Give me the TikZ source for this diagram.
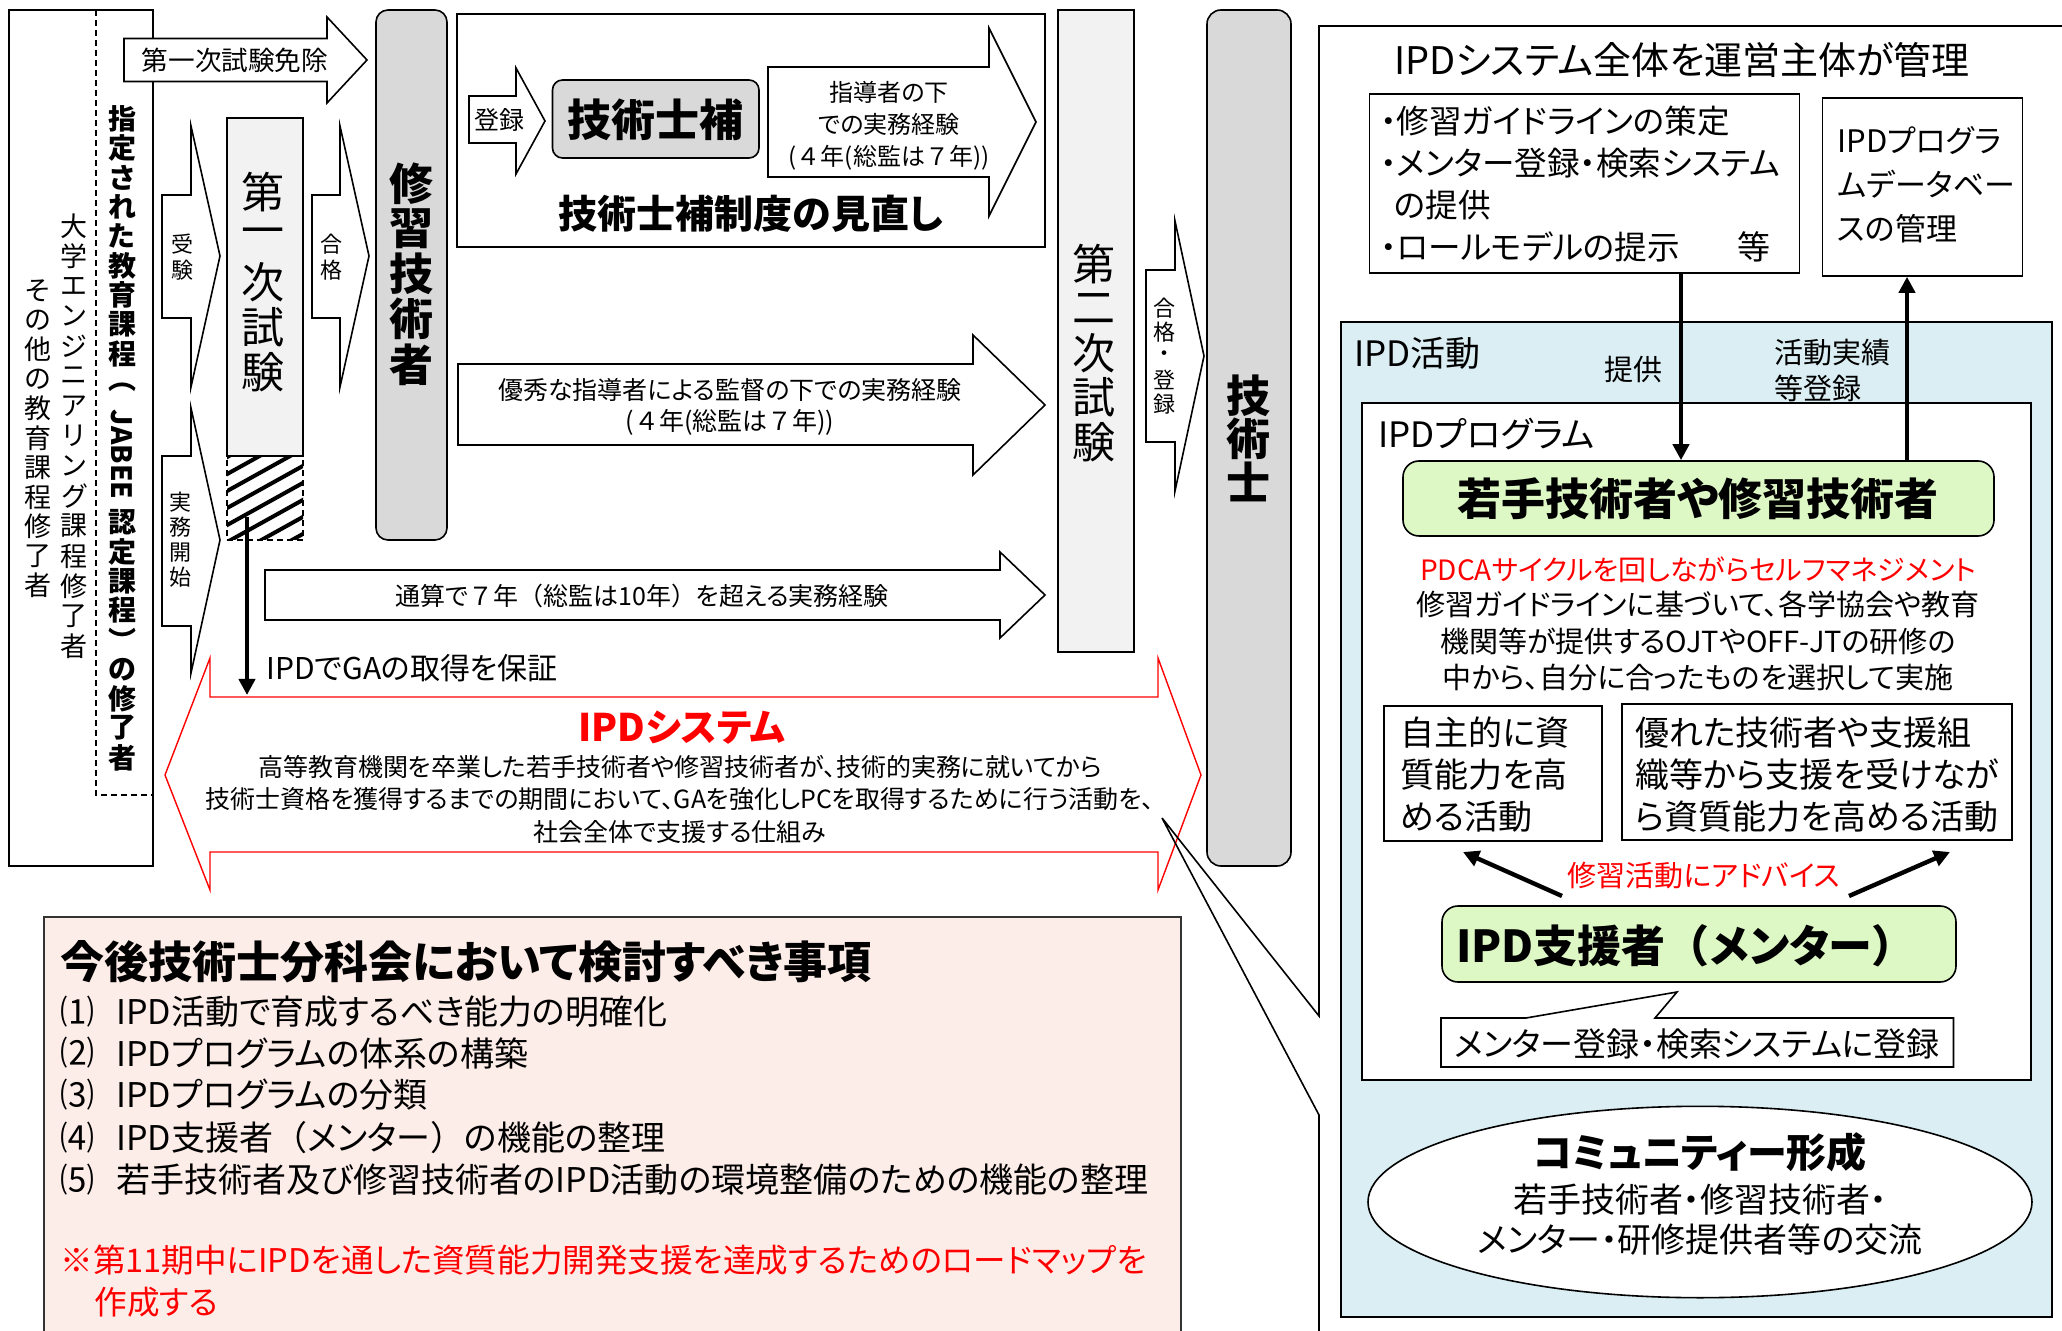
\documentclass[tikz,border=0pt]{standalone}
\usepackage{fontspec}
\setmainfont{Noto Sans CJK JP}[RawFeature=+palt]
\newfontfamily\fullw{Noto Sans CJK JP}
\usepackage{graphicx}
\usetikzlibrary{fit,shapes.geometric,arrows.meta}
\definecolor{gra}{HTML}{D9D9D9}
\definecolor{grb}{HTML}{F2F2F2}
\definecolor{lblue}{HTML}{DAEEF3}
\definecolor{lgreen}{HTML}{DDF8C4}
\definecolor{lpink}{HTML}{FDEDE8}
\definecolor{myred}{HTML}{FF0000}
\newcommand\fs[2]{\fontsize{#1pt}{#2pt}\selectfont}
\newcommand\lp{{\fullw （}}
\newcommand\rp{{\fullw ）}}
\newdimen\vtpitch
\def\vtend{\vtend}
\def\vtloop#1{\ifx\vtend#1\else\vbox to\vtpitch{\vss\hbox to 0pt{\hss#1\hss}\vss}\expandafter\vtloop\fi}
\newcommand\vtxt[1]{\vtloop#1\vtend}
\newcommand\vrot[1]{\vbox{\kern4pt\hbox to 0pt{\hss\rotatebox{-90}{#1}\hss}\kern4pt}}
\newcommand\vcol[2]{\vbox{\offinterlineskip\vtpitch=#1\relax#2}}
\tikzset{
  bx/.style={draw=black,line width=0.8pt,inner sep=0pt},
  barrow/.style={draw=black,fill=white,line width=0.8pt,line join=miter},
  txt/.style={inner sep=0pt},
  thk/.style={line width=2.2pt,-{Triangle[width=8pt,length=8pt]}},
}
\begin{document}
\begin{tikzpicture}[x=0.5pt,y=-0.5pt]
\useasboundingbox (0,0) rectangle (2062,1331);

% ---------- left education box
\node[bx,fit={(9,10)(153,866)}] (edu) {};
\draw[line width=0.7pt,dash pattern=on 3pt off 2pt] (96,10) -- (96,795) -- (153,795);
\node[txt,font=\bfseries\fs{14}{15}] (colA) at (122,438) {\vcol{14.7pt}{\vtxt{指定された教育課程}\kern2pt\vtxt{︵}\vrot{JABEE}\vtxt{認定課程︶の修了者}}};
\node[txt,font=\fs{13.5}{15}] (colB) at (74,436) {\vcol{15pt}{\vtxt{大学エンジニアリング課程修了者}}};
\node[txt,font=\fs{13.5}{15}] (colC) at (38,438) {\vcol{14.75pt}{\vtxt{その他の教育課程修了者}}};

% ---------- block arrows left
\draw[barrow] (124,38.5) -- (327,38.5) -- (327,17) -- (367,60) -- (327,103) -- (327,81.5) -- (124,81.5) -- cycle;
\node[txt,font=\fs{13.3}{15}] (menjo) at (235,60) {第一次試験免除};

\draw[barrow] (162,195) -- (191,195) -- (191,126) -- (220,256) -- (191,387) -- (191,318) -- (162,318) -- cycle;
\node[txt,font=\fs{11}{12}] (juken) at (182,257) {\vcol{12.75pt}{\vtxt{受験}}};

\draw[barrow] (162,456) -- (191,456) -- (191,408) -- (220,540) -- (191,673) -- (191,626) -- (162,626) -- cycle;
\node[txt,font=\fs{11}{12}] (jitsumu) at (180,540) {\vcol{12.5pt}{\vtxt{実務開始}}};

% ---------- first exam
\node[bx,fill=grb,fit={(227,118)(303,456)}] (ex1) {};
\begin{scope}
\clip (227,456) rectangle (303,540);
\foreach \k in {0,...,8} \draw[line width=2pt] (220,{461+17*\k}) -- (310,{461+17*\k-50});
\end{scope}
\node[draw,line width=0.7pt,dash pattern=on 3pt off 2pt,inner sep=0pt,fit={(227,456)(303,540)}] (hatch) {};
\node[txt,font=\fs{21.5}{24}] (ex1t) at (262.5,282.5) {\vcol{22.5pt}{\vtxt{第一次試験}}};

\draw[barrow] (312,195) -- (340,195) -- (340,126) -- (369,256) -- (340,387) -- (340,318) -- (312,318) -- cycle;
\node[txt,font=\fs{11}{12}] (goukaku) at (331,257) {\vcol{12.75pt}{\vtxt{合格}}};

% ---------- 修習技術者
\node[bx,fill=gra,rounded corners=6pt,fit={(376,10)(447,540)}] (shuu) {};
\node[txt,font=\bfseries\fs{22}{24}] (shuut) at (411,274) {\vcol{22.6pt}{\vtxt{修習技術者}}};

% ---------- 技術士補制度の見直し
\node[bx,fit={(457,14)(1045,247)}] (hosei) {};
\draw[barrow] (469,96) -- (516,96) -- (516,68) -- (545,121) -- (516,174) -- (516,143) -- (469,143) -- cycle;
\node[txt,font=\fs{12.5}{14}] (touroku) at (499,120) {登録};
\node[bx,fill=gra,rounded corners=5pt,fit={(552.5,80)(759,158)}] (hoho) {};
\node[txt,font=\bfseries\fs{22}{24}] (hohot) at (655,120) {技術士補};
\draw[barrow] (768,67) -- (989,67) -- (989,28) -- (1036,122) -- (989,216) -- (989,177) -- (768,177) -- cycle;
\node[txt,font=\fs{12}{16},align=center] (shidou) at (889,126) {指導者の下\\での実務経験\\{\fullw (４年(総監は７年))}};
\node[txt,font=\bfseries\fs{19.5}{22}] (minaoshi) at (751,214) {技術士補制度の見直し};

% ---------- long arrows
\draw[barrow] (458,364) -- (973,364) -- (973,335) -- (1045,405) -- (973,475) -- (973,445) -- (458,445) -- cycle;
\node[txt,font=\fs{12.5}{15.75},align=center] (yuushuu) at (730,407) {優秀な指導者による監督の下での実務経験\\{\fullw (４年(総監は７年))}};
\draw[barrow] (265,570) -- (1000,570) -- (1000,552) -- (1045,595) -- (1000,638) -- (1000,620) -- (265,620) -- cycle;
\node[txt,font=\fs{12.5}{14}] (tsuusan) at (642,596) {通算で{\fullw ７}年\lp 総監は10年\rp を超える実務経験};

% ---------- second exam, 技術士
\node[bx,fill=grb,fit={(1058,10)(1134,652)}] (ex2) {};
\node[txt,font=\fs{21.5}{24}] (ex2t) at (1094,353) {\vcol{22.25pt}{\vtxt{第二次試験}}};
\draw[barrow] (1146,270) -- (1175,270) -- (1175,221) -- (1204,356) -- (1175,491) -- (1175,442) -- (1146,442) -- cycle;
\node[txt,font=\fs{11}{12}] (gt) at (1164,356) {\vcol{12pt}{\vtxt{合格・登録}}};
\node[bx,fill=gra,rounded corners=7pt,fit={(1207,10)(1291,866)}] (gijutsushi) {};
\node[txt,font=\bfseries\fs{22}{24}] (gst) at (1248,439) {\vcol{21.5pt}{\vtxt{技術士}}};

% ---------- IPD system double arrow
\draw[draw=myred,fill=white,line width=0.7pt,line join=miter] (165,775) -- (210,658) -- (210,697) -- (1158,697) -- (1158,658) -- (1201,775) -- (1158,890) -- (1158,852) -- (210,852) -- (210,890) -- cycle;
\node[txt,font=\fs{15}{17},anchor=west] (gaho) at (266,668) {IPDでGAの取得を保証};
\node[txt,font=\bfseries\fs{19}{21},text=myred] (ipdsys) at (682,728) {IPDシステム};
\node[txt,font=\fs{12.5}{16.25},align=center] (ipddesc) at (680,799) {高等教育機関を卒業した若手技術者や修習技術者が、技術的実務に就いてから\\技術士資格を獲得するまでの期間において、GAを強化しPCを取得するために行う活動を、\\社会全体で支援する仕組み};
\coordinate (gaS) at (247,517);
\coordinate (gaE) at (247,695);
\draw[thk] (gaS) -- (gaE);

% ---------- right outer callout
\coordinate (co) at (1162,818);
\draw[line width=0.8pt,line join=miter] (2070,26) -- (1319,26) -- (1319,1016) -- (co) -- (1319,1115) -- (1319,1340);
\node[txt,font=\fs{19}{21}] (mgmt) at (1682,60) {IPDシステム全体を運営主体が管理};
\node[bx,fit={(1369.5,94)(1799.5,273)}] (box1) {};
\node[txt,font=\fs{16.3}{21},align=left,anchor=west] (box1t) at (1380,184) {・修習ガイドラインの策定\\・メンター登録・検索システム\\\hspace*{7pt}の提供\\・ロールモデルの提示};
\node[txt,font=\fs{16.5}{21}] (tou) at (1754,247) {等};
\node[bx,fit={(1822.5,98)(2022.5,276)}] (box2) {};
\node[txt,font=\fs{15.5}{22},align=left,anchor=west] (box2t) at (1837,185) {IPDプログラ\\ムデータベー\\スの管理};

% ---------- IPD活動
\node[bx,fill=lblue,fit={(1341,322)(2052,1317)}] (katsudou) {};
\node[txt,font=\fs{17.5}{20},anchor=west] (katsudout) at (1354,353) {IPD活動};
\node[bx,fill=white,fit={(1362,403)(2031,1080)}] (prog) {};
\node[txt,font=\fs{17.5}{20},anchor=west] (progt) at (1378,434) {IPDプログラム};
\node[bx,fill=lgreen,rounded corners=8pt,fit={(1403,461)(1994,536)}] (young) {};
\node[txt,font=\bfseries\fs{22}{24}] (youngt) at (1698,499) {若手技術者や修習技術者};
\coordinate (pA) at (1681,0);
\coordinate (pB) at (1907,0);
\draw[thk] (box1.south -| pA) -- (young.north -| pA);
\draw[thk] (young.north -| pB) -- (box2.south -| pB);
\node[txt,font=\fs{14.5}{17}] (teikyou) at (1633,369) {提供};
\node[txt,font=\fs{14.5}{18},align=left,anchor=west] (jisseki) at (1774,370) {活動実績\\等登録};
\node[txt,font=\fs{14}{18.25},text=myred] (pdca) at (1698,570) {PDCAサイクルを回しながらセルフマネジメント};
\node[txt,font=\fs{14.5}{18.25},align=center] (guide) at (1698,641) {修習ガイドラインに基づいて、各学協会や教育\\機関等が提供するOJTやOFF-JTの研修の\\中から、自分に合ったものを選択して実施};
\node[bx,fit={(1384,706)(1602,841)}] (jishu) {};
\node[txt,font=\fs{17}{21},align=left,anchor=west] (jishut) at (1400,775) {自主的に資\\質能力を高\\める活動};
\node[bx,fit={(1622,704)(2012,840)}] (sugu) {};
\node[txt,font=\fs{17}{21},align=left,anchor=west] (sugut) at (1635,775) {優れた技術者や支援組\\織等から支援を受けなが\\ら資質能力を高める活動};
\node[txt,font=\fs{14.5}{17},text=myred] (advice) at (1704,876) {修習活動にアドバイス};
\coordinate (m1s) at (1562,896);
\coordinate (m1e) at (1463,852);
\coordinate (m2s) at (1849,896);
\coordinate (m2e) at (1950,852);
\draw[thk] (m1s) -- (m1e);
\draw[thk] (m2s) -- (m2e);
\node[bx,fill=lgreen,rounded corners=8pt,fit={(1442,906)(1956,982)}] (mentor) {};
\node[txt,font=\bfseries\fs{22}{24}] (mentort) at (1686,946) {IPD支援者\lp メンター\rp};
\draw[fill=white,line width=0.8pt,line join=miter] (1441,1018) -- (1526,1018) -- (1677,992) -- (1655,1018) -- (1953.5,1018) -- (1953.5,1067) -- (1441,1067) -- cycle;
\node[txt,font=\fs{16.5}{18}] (regt) at (1697,1044) {メンター登録・検索システムに登録};
\node[draw,line width=0.8pt,fill=white,ellipse,minimum width=332pt,minimum height=95.7pt,inner sep=0pt] (comm) at (1700,1202) {};
\node[txt,font=\bfseries\fs{20}{22}] (commt) at (1700,1152) {コミュニティー形成};
\node[txt,font=\fs{17}{20},align=center] (commd) at (1700,1220) {若手技術者・修習技術者・\\メンター・研修提供者等の交流};

% ---------- pink box
\node[draw=black!80,line width=0.8pt,fill=lpink,inner sep=0pt,fit={(44,917)(1181,1345)}] (pink) {};
\node[txt,font=\bfseries\fs{22}{24},anchor=west] (kentou) at (60,962) {今後技術士分科会において検討すべき事項};
\node[txt,font=\fs{17}{20},anchor=west] (n1) at (60,1012) {⑴};
\node[txt,font=\fs{17}{20},anchor=west] (i1) at (116,1012) {IPD活動で育成するべき能力の明確化};
\node[txt,font=\fs{17}{20},anchor=west] (n2) at (60,1053) {⑵};
\node[txt,font=\fs{17}{20},anchor=west] (i2) at (116,1053) {IPDプログラムの体系の構築};
\node[txt,font=\fs{17}{20},anchor=west] (n3) at (60,1095) {⑶};
\node[txt,font=\fs{17}{20},anchor=west] (i3) at (116,1095) {IPDプログラムの分類};
\node[txt,font=\fs{17}{20},anchor=west] (n4) at (60,1138) {⑷};
\node[txt,font=\fs{17}{20},anchor=west] (i4) at (116,1138) {IPD支援者\lp メンター\rp の機能の整理};
\node[txt,font=\fs{17}{20},anchor=west] (n5) at (60,1180) {⑸};
\node[txt,font=\fs{17}{20},anchor=west] (i5) at (116,1180) {若手技術者及び修習技術者のIPD活動の環境整備のための機能の整理};
\node[txt,font=\fs{16.3}{21},text=myred,align=left,anchor=west] (note) at (60,1281) {※第11期中にIPDを通した資質能力開発支援を達成するためのロードマップを\\\hspace*{17pt}作成する};
\end{tikzpicture}
\end{document}
